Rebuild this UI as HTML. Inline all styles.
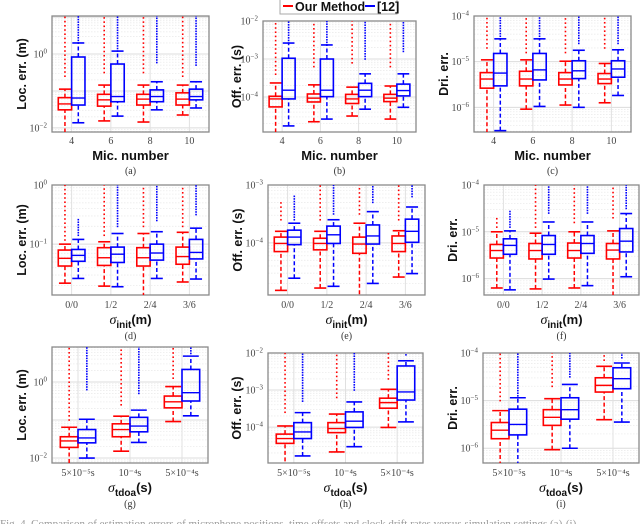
<!DOCTYPE html>
<html><head><meta charset="utf-8">
<style>
html,body{margin:0;padding:0;background:#fff;}
svg{display:block;}
.tk{font-family:"Liberation Serif",serif;font-size:10px;fill:#444;}
.yl{font-family:"Liberation Sans",sans-serif;font-size:12.5px;font-weight:bold;fill:#111;}
.xl{font-family:"Liberation Sans",sans-serif;font-size:13px;font-weight:bold;fill:#111;}
.cap{font-family:"Liberation Serif",serif;font-size:10px;fill:#333;}
</style></head><body>
<svg id="fig" width="640" height="524" viewBox="0 0 640 524" xmlns="http://www.w3.org/2000/svg">
<g>
<rect x="280" y="-2" width="117" height="16" fill="#fff" stroke="#aaa" stroke-width="1"/>
<line x1="283" y1="6" x2="293" y2="6" stroke="#f00" stroke-width="2"/>
<text x="295" y="11" font-family="Liberation Sans,sans-serif" font-weight="bold" font-size="12.5" fill="#111">Our Method</text>
<line x1="365" y1="6" x2="375" y2="6" stroke="#00f" stroke-width="2"/>
<text x="377" y="11" font-family="Liberation Sans,sans-serif" font-weight="bold" font-size="12.5" fill="#111">[12]</text>
</g>
<text x="0" y="527" font-family="Liberation Serif,serif" font-size="11" fill="#999">Fig. 4. Comparison of estimation errors of microphone positions, time offsets and clock drift rates versus simulation settings (a)-(i).</text>
</svg>
<script>
// ---- data: per group [whiskerLow, q1, median, q3, whiskerHigh] in log10, outlier start log10 ----
const micCats = ["4","6","8","10"];
const initCats = ["0/0","1/2","2/4","3/6"];
const tdoaCats = ["5e-5","1e-4","5e-4"];

const aRed  = [[-2.3,-1.51,-1.35,-1.18,-0.95],[-1.81,-1.41,-1.24,-1.09,-0.84],[-1.84,-1.38,-1.22,-1.09,-0.84],[-1.65,-1.38,-1.22,-1.05,-0.84]];
const aBlue = [[-1.86,-1.38,-1.19,-0.08,0.3],[-1.68,-1.29,-1.15,-0.27,0.08],[-1.51,-1.29,-1.15,-0.97,-0.75],[-1.46,-1.24,-1.15,-0.95,-0.75]];
const aRedOut = [-0.6,-0.5,-0.5,-0.6];
const aBlueOut = [0.3,0.08,-0.23,-0.3];

const bRed  = [[-5.1,-4.26,-4.05,-3.98,-3.63],[-4.65,-4.13,-4.03,-3.92,-3.68],[-4.5,-4.17,-4.05,-3.93,-3.74],[-4.58,-4.12,-4.03,-3.93,-3.71]];
const bBlue = [[-4.76,-4.05,-3.82,-2.98,-2.58],[-4.58,-3.99,-3.82,-3.0,-2.63],[-4.32,-3.99,-3.82,-3.64,-3.39],[-4.27,-3.97,-3.83,-3.66,-3.39]];
const bRedOut = [-3.4,-3.2,-3.1,-3.2];
const bBlueOut = [-2.58,-2.63,-3.0,-2.8];

const cRed  = [[-6.7,-5.58,-5.38,-5.24,-4.96],[-6.04,-5.53,-5.38,-5.21,-4.96],[-5.95,-5.51,-5.38,-5.24,-4.99],[-5.9,-5.48,-5.38,-5.26,-5.04]];
const cBlue = [[-6.51,-5.53,-5.25,-4.82,-4.5],[-5.98,-5.4,-5.18,-4.82,-4.5],[-6.0,-5.37,-5.2,-4.98,-4.75],[-5.74,-5.34,-5.16,-4.98,-4.74]];
const cRedOut = [-4.7,-4.8,-4.8,-4.7];
const cBlueOut = [-4.5,-4.5,-4.6,-4.6];

const dRed  = [[-1.66,-1.37,-1.24,-1.10,-1.0],[-1.71,-1.36,-1.23,-1.06,-0.96],[-2.0,-1.37,-1.23,-1.06,-0.82],[-1.64,-1.34,-1.21,-1.05,-0.80]];
const dBlue = [[-1.58,-1.29,-1.19,-1.09,-0.92],[-1.72,-1.31,-1.17,-1.05,-0.82],[-1.58,-1.27,-1.15,-1.0,-0.79],[-1.59,-1.25,-1.14,-0.92,-0.73]];
const dRedOut = [-0.93,-0.85,-0.7,-0.7];
const dBlueOut = [-0.85,-0.7,-0.6,-0.5];
const dBlueOutTop = [-0.56,0,0,0];

const eRed  = [[-4.82,-4.15,-4.01,-3.90,-3.80],[-4.78,-4.12,-4.01,-3.92,-3.8],[-5.0,-4.18,-4.02,-3.9,-3.66],[-4.59,-4.15,-4.01,-3.88,-3.79]];
const eBlue = [[-4.61,-4.03,-3.90,-3.78,-3.66],[-4.75,-4.01,-3.86,-3.71,-3.6],[-4.70,-4.02,-3.88,-3.69,-3.46],[-4.53,-3.99,-3.80,-3.59,-3.38]];
const eRedOut = [-3.6,-3.6,-3.5,-3.6];
const eRedOutTop = [-3.3,-3,-3,-3];
const eBlueOut = [-3.6,-3.5,-3.3,-3.2];
const eBlueOutTop = [-3.2,-3,-3,-3];

const fRed  = [[-6.2,-5.56,-5.40,-5.27,-5.0],[-6.22,-5.58,-5.40,-5.25,-5.03],[-6.2,-5.56,-5.40,-5.24,-5.0],[-6.5,-5.58,-5.39,-5.25,-4.98]];
const fBlue = [[-6.24,-5.48,-5.29,-5.15,-4.98],[-6.01,-5.48,-5.27,-5.08,-4.79],[-6.15,-5.46,-5.25,-5.08,-4.79],[-5.96,-5.43,-5.2,-4.93,-4.61]];
const fRedOut = [-4.9,-4.9,-4.8,-4.7];
const fRedOutTop = [-4.7,-4,-4,-4];
const fBlueOut = [-4.9,-4.6,-4.6,-4.5];
const fBlueOutTop = [-4.55,-4,-4,-4];

const gRed  = [[-2.3,-1.72,-1.55,-1.44,-1.19],[-1.82,-1.44,-1.25,-1.1,-0.9],[-1.04,-0.68,-0.52,-0.37,-0.12]];
const gBlue = [[-2.0,-1.6,-1.47,-1.25,-0.98],[-1.59,-1.31,-1.16,-0.93,-0.74],[-0.89,-0.5,-0.28,0.33,0.68]];
const gRedOut = [-1.0,-0.6,0.1];
const gBlueOut = [-0.2,-0.3,0.75];

const hRed  = [[-5.1,-4.44,-4.31,-4.19,-3.97],[-4.67,-4.15,-4.04,-3.88,-3.65],[-4.01,-3.49,-3.34,-3.22,-2.98]];
const hBlue = [[-4.78,-4.31,-4.13,-3.88,-3.61],[-4.53,-4.01,-3.84,-3.59,-3.32],[-3.86,-3.27,-3.05,-2.35,-2.21]];
const hRedOut = [-3.6,-3.2,-2.7];
const hBlueOut = [-3.3,-3.0,-2.05];

const iRed  = [[-6.5,-5.8,-5.62,-5.46,-5.21],[-6.03,-5.52,-5.35,-5.19,-4.96],[-5.4,-4.82,-4.68,-4.52,-4.28]];
const iBlue = [[-6.5,-5.72,-5.5,-5.18,-4.94],[-6.0,-5.39,-5.19,-4.94,-4.66],[-5.45,-4.75,-4.54,-4.31,-4.21]];
const iRedOut = [-5.0,-4.7,-4.15];
const iBlueOut = [-4.9,-4.5,-4.1];

// tick labels (exponents)
const aTicks=[0,-2], bTicks=[-2,-3,-4], cTicks=[-4,-5,-6];
const dTicks=[0,-1], eTicks=[-3,-4], fTicks=[-4,-5,-6];
const gTicks=[0,-2], hTicks=[-2,-3,-4], iTicks=[-4,-5,-6];
</script>
<script>
const NS="http://www.w3.org/2000/svg";
const svg=document.getElementById('fig');
function mk(tag,attrs,parent){const e=document.createElementNS(NS,tag);for(const k in attrs)e.setAttribute(k,attrs[k]);(parent||svg).appendChild(e);return e;}

const panels=[
 {id:'a',x0:52,x1:209,y0:16,y1:132,lmax:1.03,lmin:-2.11,cats:micCats,lab:micCats,red:aRed,blue:aBlue,ro:aRedOut,bo:aBlueOut,ticks:aTicks,yl:'Loc. err. (m)',ylx:22,xl:'mic',tky:144,xly:160,cy:174},
 {id:'b',x0:263,x1:416,y0:21,y1:132,lmax:-2,lmin:-4.92,cats:micCats,lab:micCats,red:bRed,blue:bBlue,ro:bRedOut,bo:bBlueOut,ticks:bTicks,yl:'Off. err. (s)',ylx:237,xl:'mic',tky:144,xly:160,cy:174},
 {id:'c',x0:474,x1:631,y0:16,y1:132,lmax:-4,lmin:-6.54,cats:micCats,lab:micCats,red:cRed,blue:cBlue,ro:cRedOut,bo:cBlueOut,ticks:cTicks,yl:'Dri. err.',ylx:444,xl:'mic',tky:144,xly:160,cy:174},
 {id:'d',x0:52,x1:209,y0:185,y1:295,lmax:0,lmin:-1.86,cats:initCats,lab:initCats,red:dRed,blue:dBlue,ro:dRedOut,bo:dBlueOut,bot:dBlueOutTop,ticks:dTicks,yl:'Loc. err. (m)',ylx:22,xl:'init',tky:308,xly:324,cy:339},
 {id:'e',x0:268,x1:425,y0:185,y1:295,lmax:-3,lmin:-4.90,cats:initCats,lab:initCats,red:eRed,blue:eBlue,ro:eRedOut,rot:eRedOutTop,bo:eBlueOut,bot:eBlueOutTop,ticks:eTicks,yl:'Off. err. (s)',ylx:238,xl:'init',tky:308,xly:324,cy:339},
 {id:'f',x0:484,x1:639,y0:185,y1:295,lmax:-4,lmin:-6.35,cats:initCats,lab:initCats,red:fRed,blue:fBlue,ro:fRedOut,rot:fRedOutTop,bo:fBlueOut,bot:fBlueOutTop,ticks:fTicks,yl:'Dri. err.',ylx:453,xl:'init',tky:308,xly:324,cy:339},
 {id:'g',x0:52,x1:208,y0:347,y1:463,lmax:0.92,lmin:-2.13,cats:tdoaCats,lab:['5×10⁻⁵s','10⁻⁴s','5×10⁻⁴s'],red:gRed,blue:gBlue,ro:gRedOut,bo:gBlueOut,ticks:gTicks,yl:'Loc. err. (m)',ylx:22,xl:'tdoa',tky:476,xly:492,cy:507},
 {id:'h',x0:268,x1:423,y0:353,y1:463,lmax:-2,lmin:-4.97,cats:tdoaCats,lab:['5×10⁻⁵s','10⁻⁴s','5×10⁻⁴s'],red:hRed,blue:hBlue,ro:hRedOut,bo:hBlueOut,ticks:hTicks,yl:'Off. err. (s)',ylx:237,xl:'tdoa',tky:476,xly:492,cy:507},
 {id:'i',x0:483,x1:639,y0:353,y1:463,lmax:-4,lmin:-6.31,cats:tdoaCats,lab:['5×10⁻⁵s','10⁻⁴s','5×10⁻⁴s'],red:iRed,blue:iBlue,ro:iRedOut,bo:iBlueOut,ticks:iTicks,yl:'Dri. err.',ylx:453,xl:'tdoa',tky:476,xly:492,cy:507}
];

panels.forEach(p=>{
  const g=mk('g',{});
  
  
  const n=p.cats.length, W=p.x1-p.x0, sp=W/n;
  const X=i=>p.x0+sp*(i+0.5);
  const Y=l=>p.y0+(p.lmax-l)/(p.lmax-p.lmin)*(p.y1-p.y0);
  const cp=mk('clipPath',{id:'clip'+p.id},g);
  mk('rect',{x:p.x0,y:p.y0,width:W,height:p.y1-p.y0},cp);
  const grid=mk('g',{},g);
  
  
  for(let d=Math.floor(p.lmin);d<=Math.ceil(p.lmax);d++){
    for(let m=1;m<10;m++){
      const l=d+Math.log10(m);
      if(l<p.lmin||l>p.lmax)continue;
      const y=Y(l);
      mk('line',{x1:p.x0,x2:p.x1,y1:y,y2:y,stroke:m===1?'#dcdcdc':'#ececec','stroke-width':m===1?1:0.8,'stroke-dasharray':m===1?'':'1.5,1.5'},grid);
    }
  }
  for(let i=0;i<n;i++){const x=X(i);mk('line',{x1:x,x2:x,y1:p.y0,y2:p.y1,stroke:'#e0e0e0','stroke-width':1},grid);}
  const fr=mk('rect',{x:p.x0,y:p.y0,width:W,height:p.y1-p.y0,fill:'none',stroke:'#8a8a8a','stroke-width':1.3},g);
  
  
  const bw=sp*0.34, capw=bw*0.45;
  const marks=mk('g',{'clip-path':'url(#clip'+p.id+')'},g);
  [['red',p.red,p.ro,p.rot,'#ff0000',-1,4.2],['blue',p.blue,p.bo,p.bot,'#0000ff',1,2.6]].forEach(([nm,arr,out,outTop,col,side,step])=>{
    arr.forEach((s,i)=>{
      const cx=X(i)+side*bw/2, xl=cx-bw/2;
      const bg=mk('g',{},marks);
      
      
      const top=outTop?outTop[i]:p.lmax;
      const oy0=Y(out[i]), oy1=Y(top);
      for(let y=oy0;y>=oy1-0.5;y-=step){mk('rect',{x:cx-0.8,y:y-0.8,width:1.6,height:1.6,fill:col},bg);}
      mk('line',{x1:cx,x2:cx,y1:Y(s[0]),y2:Y(s[1]),stroke:col,'stroke-width':1.5,'stroke-dasharray':'4,2.5'},bg);
      mk('line',{x1:cx,x2:cx,y1:Y(s[3]),y2:Y(s[4]),stroke:col,'stroke-width':1.5,'stroke-dasharray':'4,2.5'},bg);
      mk('line',{x1:cx-capw,x2:cx+capw,y1:Y(s[0]),y2:Y(s[0]),stroke:col,'stroke-width':1.6},bg);
      mk('line',{x1:cx-capw,x2:cx+capw,y1:Y(s[4]),y2:Y(s[4]),stroke:col,'stroke-width':1.6},bg);
      mk('rect',{x:xl,y:Y(s[3]),width:bw,height:Y(s[1])-Y(s[3]),fill:'none',stroke:col,'stroke-width':1.6},bg);
      mk('line',{x1:xl,x2:xl+bw,y1:Y(s[2]),y2:Y(s[2]),stroke:col,'stroke-width':1.4},bg);
    });
  });
  p.ticks.forEach(e=>{
    const y=Y(e);
    const t=mk('text',{x:p.x0-5,y:y+3.5,'text-anchor':'end',class:'tk'},g);
    
    
    t.appendChild(document.createTextNode('10'));
    const sup=mk('tspan',{dy:-4,'font-size':'7'},t);sup.textContent=(e<0?'−':'')+Math.abs(e);
  });
  p.lab.forEach((lb,i)=>{
    const t=mk('text',{x:X(i),y:p.tky,'text-anchor':'middle',class:'tk'},g);
    
    
    t.textContent=lb;
  });
  const cyy=(p.y0+p.y1)/2;
  const yl=mk('text',{x:p.ylx,y:cyy,'text-anchor':'middle',class:'yl',transform:'rotate(-90 '+p.ylx+' '+cyy+') translate(0 4)'},g);
  
  
  yl.textContent=p.yl;
  const mid=(p.x0+p.x1)/2;
  const xl=mk('text',{x:mid,y:p.xly,'text-anchor':'middle',class:'xl'},g);
  
  
  if(p.xl==='mic'){xl.textContent='Mic. number';}
  else{
    const s=mk('tspan',{'font-family':'Liberation Serif,serif','font-style':'italic','font-weight':'normal','font-size':'14'},xl);s.textContent='σ';
    const sb=mk('tspan',{dy:4,'font-size':'10'},xl);sb.textContent=p.xl;
    const u=mk('tspan',{dy:-4},xl);u.textContent=p.xl==='init'?'(m)':'(s)';
  }
  const c=mk('text',{x:mid,y:p.cy,'text-anchor':'middle',class:'cap'},g);
  
  
  c.textContent='('+p.id+')';
});
</script>
</body></html>
